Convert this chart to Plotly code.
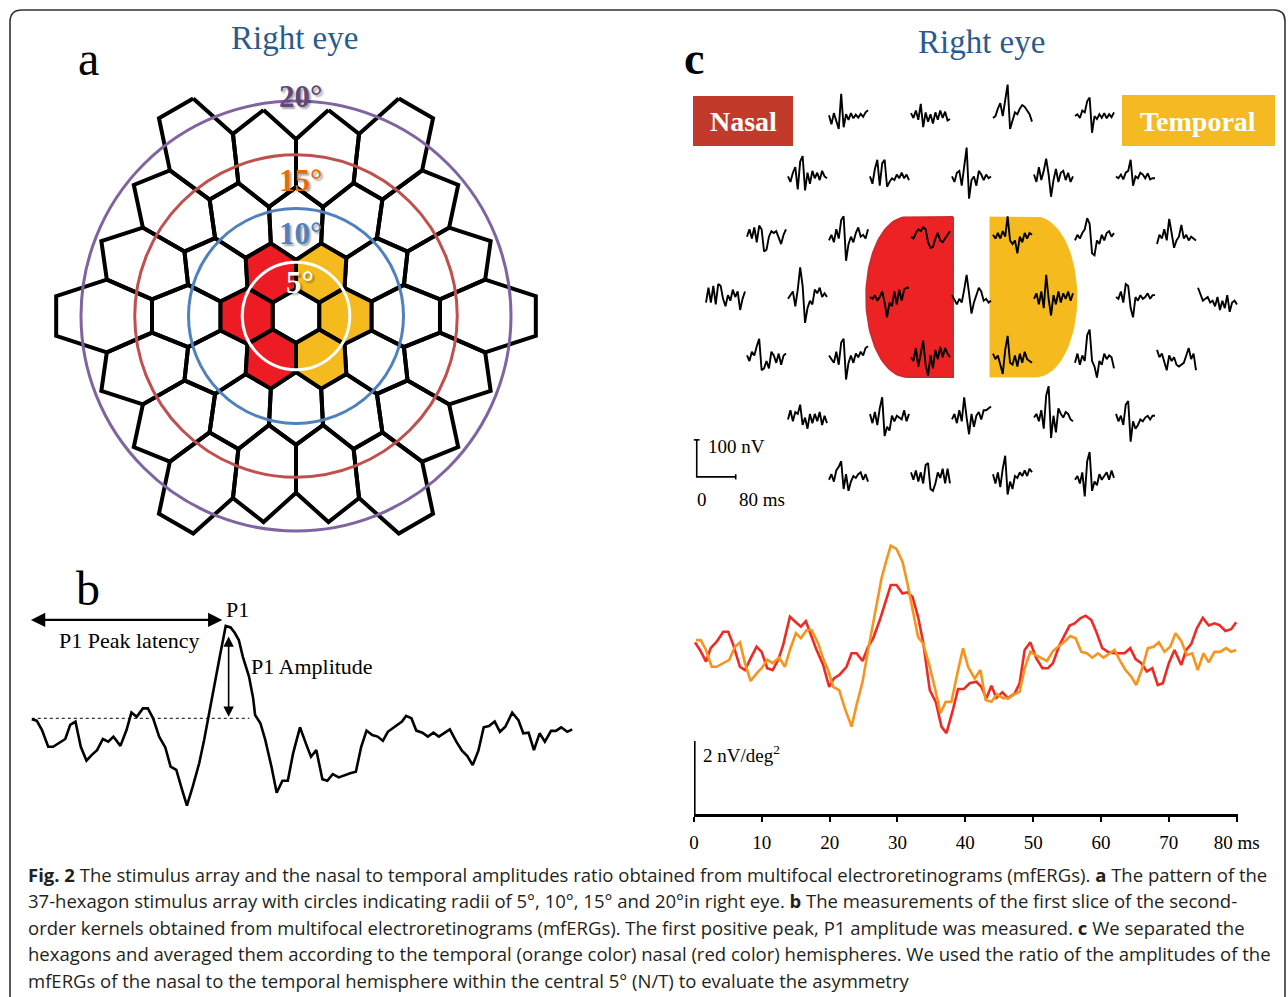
import numpy as np
import plotly.graph_objects as go

W, H = 1288, 997
SERIF = "Liberation Serif, Times New Roman, serif"
SANS = "Open Sans, Noto Sans, sans-serif"

# ---------------- Panel a : stimulus array ----------------
circle_deg = [5, 10, 15, 20]
circle_colors = ["#FFFFFF", "#4F81BD", "#C0504D", "#8064A2"]
circle_label_colors = ["#FFFFFF", "#4F81BD", "#E46C0A", "#5F497A"]
circle_label_offset = [-1.9, -2.3, -2.35, 0.4]
hex_rings = 3
hex_scale_center = 2.474    # deg per lattice unit at the centre
hex_scale_growth = 0.0326   # growth of that scale with squared eccentricity
nasal_color = "#ED1C24"
temporal_color = "#F5BA1E"

# ---------------- Panel b : single kernel ----------------
b_t = [0.0, 0.73, 1.51, 2.43, 3.16, 4.06, 4.96, 5.69, 6.47, 7.26, 8.1, 8.89, 9.67, 10.53, 11.32,
       12.1, 13.13, 14.03, 14.76, 15.54, 16.46, 17.19, 17.97, 18.87, 19.78, 20.56, 21.41, 22.19,
       22.98, 23.84, 24.8, 25.53, 26.43, 27.21, 27.94, 28.73, 29.45, 30.06, 30.67, 31.27, 32.18,
       32.79, 33.08, 33.87, 34.59, 35.5, 36.28, 37.13, 37.93, 38.71, 39.73, 40.64, 41.36, 42.15,
       43.05, 43.78, 44.58, 45.48, 46.39, 47.17, 48.01, 48.8, 49.59, 50.43, 51.23, 52.01, 52.74,
       53.47, 54.25, 54.84, 55.45, 56.24, 56.96, 57.87, 58.67, 59.51, 60.3, 61.2, 61.93, 62.89,
       63.73, 64.52, 65.32, 66.16, 66.95, 67.73, 68.58, 69.36, 70.15, 71.17, 72.09, 72.81, 73.6,
       74.39, 75.23, 76.01, 76.92, 77.64, 78.43, 79.33, 80.06]
b_amp = [-0.03, -0.08, -0.39, -0.95, -0.95, -0.81, -0.69, -0.22, -0.11, -0.95, -1.41, -1.22, -1.06,
         -0.69, -0.78, -0.61, -0.92, -0.39, 0.19, 0.05, 0.33, 0.33, 0.0, -0.61, -0.97, -1.61, -1.72,
         -2.33, -2.91, -2.28, -1.5, -0.72, 0.39, 1.28, 2.17, 3.08, 3.03, 2.85, 2.61, 2.05, 1.39, 0.67,
         0.11, -0.17, -0.72, -1.61, -2.48, -2.08, -2.08, -1.17, -0.3, -0.86, -1.28, -1.06, -2.03,
         -2.08, -1.86, -1.97, -1.89, -1.83, -1.78, -0.95, -0.41, -0.56, -0.61, -0.75, -0.45, -0.33,
         -0.19, -0.11, 0.08, 0.0, -0.41, -0.48, -0.61, -0.48, -0.61, -0.48, -0.37, -0.78, -1.08,
         -1.26, -1.56, -1.08, -0.3, -0.26, -0.11, -0.45, -0.28, 0.19, -0.06, -0.5, -0.48, -1.06,
         -0.5, -0.78, -0.42, -0.42, -0.3, -0.45, -0.37]
b_peak_t = 28.73
b_peak_amp = 3.08

# ---------------- Panel c : averaged nasal / temporal kernels ----------------
nasal_t = [0.15, 0.88, 1.77, 2.46, 3.34, 4.32, 5.05, 5.79, 6.77, 7.51, 8.35, 9.23, 9.97, 10.8, 11.59,
           12.42, 13.15, 14.14, 15.02, 15.76, 16.49, 17.19, 17.97, 19.04, 19.93, 20.62, 21.5, 22.49,
           23.23, 23.96, 24.85, 25.67, 26.41, 27.39, 28.13, 29.01, 29.85, 30.74, 31.41, 32.21, 33.03,
           33.77, 34.76, 35.64, 36.48, 37.22, 38.1, 38.93, 39.76, 40.65, 41.63, 42.37, 43.11, 43.84,
           44.58, 45.46, 46.29, 47.28, 48.01, 48.75, 49.59, 50.47, 51.36, 52.18, 52.92, 53.9, 54.64,
           55.38, 56.11, 56.95, 57.73, 58.57, 59.31, 60.19, 61.02, 61.86, 62.64, 63.48, 64.31, 65.1,
           65.93, 66.76, 67.56, 68.38, 69.12, 70.0, 70.84, 71.83, 72.56, 73.3, 74.12, 75.01, 75.89,
           76.73, 77.47, 78.35, 79.19, 79.93]
nasal_amp = [0.21, 0.0, -0.32, 0.05, 0.23, 0.5, 0.5, 0.14, -0.46, -0.55, -0.23, 0.09, -0.05, -0.5,
             -0.55, -0.27, 0.14, 0.91, 0.76, 0.64, 0.79, 0.41, 0.05, -0.41, -1.01, -0.78, -0.67, -0.46,
             -0.09, -0.09, -0.3, 0.09, 0.32, 0.82, 1.23, 1.78, 1.78, 1.55, 1.58, 1.46, 0.91, 0.23, -1.1,
             -1.42, -2.1, -2.28, -1.69, -1.07, -1.07, -0.91, -0.87, -1.01, -1.32, -0.98, -1.31, -1.16,
             -1.32, -1.19, -0.91, 0.0, 0.21, -0.23, -0.5, -0.5, -0.36, 0.14, 0.41, 0.67, 0.73, 0.87,
             0.94, 0.82, 0.5, 0.05, -0.05, -0.09, -0.09, -0.09, 0.05, -0.25, -0.36, -0.59, -0.5, -0.96,
             -0.91, -0.36, 0.0, -0.41, 0.0, 0.16, 0.59, 0.88, 0.67, 0.73, 0.68, 0.52, 0.57, 0.76]
temporal_t = [0.29, 0.99, 1.77, 2.61, 3.34, 4.32, 5.2, 6.04, 6.77, 7.51, 8.35, 9.23, 9.97, 10.8, 11.59,
              12.56, 13.4, 14.14, 15.02, 15.76, 16.6, 17.33, 18.31, 19.04, 19.78, 20.52, 21.4, 22.24,
              23.23, 23.96, 24.85, 25.67, 26.66, 27.64, 28.38, 29.01, 29.85, 30.74, 31.41, 32.21,
              33.03, 33.77, 34.76, 35.64, 36.33, 37.11, 37.95, 38.78, 39.66, 40.4, 41.38, 42.22, 43.0,
              43.84, 44.67, 45.55, 46.44, 47.13, 48.01, 48.75, 49.59, 50.37, 51.21, 52.03, 52.92, 53.8,
              54.64, 55.48, 56.26, 57.1, 57.92, 58.72, 59.54, 60.38, 61.16, 62.0, 62.74, 63.62, 64.46,
              65.2, 66.08, 66.91, 67.75, 68.53, 69.37, 70.21, 70.99, 71.83, 72.65, 73.45, 74.27, 75.11,
              75.89, 76.73, 77.57, 78.45, 79.19, 79.93]
temporal_amp = [0.27, 0.27, 0.0, -0.46, -0.46, -0.36, -0.27, 0.09, 0.21, -0.36, -0.85, -0.64, -0.5,
                -0.27, -0.36, -0.21, -0.46, 0.0, 0.46, 0.32, 0.55, 0.55, 0.18, -0.23, -0.55, -1.01,
                -1.1, -1.6, -2.1, -1.51, -0.87, 0.0, 0.96, 1.96, 2.47, 2.86, 2.77, 2.42, 1.87, 1.14,
                0.36, 0.18, -0.46, -1.14, -1.73, -1.42, -1.42, -0.68, 0.05, -0.46, -0.78, -0.55, -1.37,
                -1.42, -1.21, -1.32, -1.31, -1.23, -1.14, -0.5, -0.05, -0.14, -0.21, -0.3, -0.03, 0.09,
                0.23, 0.38, 0.32, -0.05, -0.09, -0.21, -0.09, -0.21, -0.12, 0.0, -0.27, -0.55, -0.73,
                -0.96, -0.5, 0.05, 0.09, 0.21, -0.05, 0.09, 0.46, 0.25, -0.14, -0.09, -0.55, -0.09,
                -0.34, -0.05, -0.05, 0.05, -0.05, 0.0]
c_tickvals = [0, 10, 20, 30, 40, 50, 60, 70, 80]
c_ticktext = ["0", "10", "20", "30", "40", "50", "60", "70", "80 ms"]
c_scale_nv_deg2 = 2

# ---------------- Panel c : 37 local responses (nV, 5 ms steps) ----------------
local_t = [0, 5, 10, 15, 20, 25, 30, 35, 40, 45, 50, 55, 60, 65, 70, 75, 80]
row1 = [
    [2, -22, 8, -12, -35, 60, -30, 5, -10, 8, -6, 4, -4, 6, -2, 10, 16],
    [8, -5, 15, -10, 33, -30, 10, -15, 5, -20, 10, -10, 15, -5, 12, -12, -8],
    [-5, 0, 20, 35, 0, 45, 85, -35, -10, 10, 5, 20, 30, 25, 15, 5, -15],
    [0, 5, -5, 15, 10, 40, 50, -45, 0, -8, 5, -5, 8, -6, 5, -3, 10],
]
row2 = [
    [0, -15, 10, 25, -35, 40, 55, -38, 10, -20, 15, -5, 10, -10, 15, 0, -5],
    [0, -20, 20, 45, -25, 35, 45, -28, -15, -5, -10, 5, -5, 10, -5, 5, -10],
    [0, -15, 10, 15, -25, 30, 78, -60, -10, 0, -25, 15, 5, -10, 5, -5, 0],
    [5, -15, 25, -10, 15, 48, 5, -55, -10, 20, -15, 10, 15, -10, 10, -15, 0],
    [0, -5, 5, -8, 10, 15, 45, -25, 0, -5, 10, 5, -5, 8, -8, -5, -5],
]
row3 = [
    [0, 20, -5, 25, -15, 30, 20, -40, -35, 0, 15, 10, 15, 0, -20, 5, 20],
    [-10, 5, -15, 20, -5, 45, 55, -65, -20, 0, -15, 10, 25, 0, 5, -5, 20],
    [0, -5, 10, 20, 15, 25, 20, -15, -30, -28, -5, 10, -10, -15, -5, 5, 15],
    [5, -5, 10, -5, 15, 0, 55, -10, -20, -10, -45, 0, -15, 10, -5, 10, 5],
    [-10, 5, -5, 10, 20, 50, 35, -45, -50, -10, -20, 5, -10, 10, 15, 0, 10],
    [-20, 5, -5, 20, -10, 48, 10, -30, -10, 0, 32, -5, 5, -10, 0, -5, -10],
]
row4 = [
    [-15, 25, -15, 30, -20, 35, 30, -5, -25, 5, -10, 20, 0, 15, -35, -5, 15],
    [-5, 5, 15, -25, 20, 80, 30, -70, -30, -10, -20, 20, 10, 25, 0, 10, 0],
    [0, -5, 5, -10, 0, 15, -15, -55, -15, -25, 15, -20, 20, -10, 20, 25, 25],
    [5, -10, -20, -5, -15, 20, 60, 10, -45, -15, 5, 25, 15, -10, -5, -15, -10],
    [-5, 10, -20, 15, -30, 60, -5, -50, 5, -20, 15, -15, 10, -5, 15, -10, 10],
    [0, -5, 15, -15, 35, 30, -30, -55, 0, -10, 5, -5, 0, 10, -5, 5, 5],
    [25, 5, -10, -5, 0, -15, -10, -25, 0, -35, -10, -30, 5, -40, -15, -10, -20],
]
row5 = [
    [5, -10, 15, 5, 30, 50, -35, -30, -10, -30, 15, 5, -15, 10, -20, 5, 10],
    [5, -5, -15, 15, -20, 40, 50, -60, -15, 5, -15, 10, 0, 15, 5, 25, 30],
    [0, -10, 25, -25, 10, 45, -20, -50, 5, -30, 20, -5, 28, 0, 25, 10, 0],
    [10, -5, 5, -20, -45, 20, 58, -15, -20, 5, -25, 10, -15, 15, -5, -10, -15],
    [-15, 10, -20, 5, -10, 60, 75, -10, -25, -55, -10, -20, 10, -5, 5, 0, -30],
    [20, 0, 10, -15, -35, 5, -10, 0, -20, -25, -20, -15, 5, 25, -5, 10, -35],
]
row6 = [
    [-5, 20, -10, 15, 10, 35, -20, 0, -30, 10, -15, 10, -10, 15, -20, 5, -15],
    [10, -15, 15, -20, 25, 55, -50, -25, -35, 5, -10, 5, 0, -5, 20, -10, 10],
    [-5, 10, -15, 20, -10, 55, 0, -45, 10, -25, 5, 15, -5, 20, 20, 25, 30],
    [0, 10, -10, 20, -30, 60, 85, -55, 5, -40, 25, 10, 0, 15, 10, -5, -10],
    [10, -10, 5, -20, 35, 45, -65, -10, -30, -20, -5, -10, 0, 5, -5, 5, 5],
]
row7 = [
    [-5, 10, -10, 20, 30, 45, -30, 10, -35, -10, 5, 0, 10, 15, -5, 10, -10],
    [15, -5, 20, -10, 15, -15, 35, 40, -30, -35, -15, 15, 0, 25, -15, 25, -15],
    [10, -15, 15, -25, 25, 60, -45, -10, -30, 5, 0, 15, 5, 20, 5, 25, 15],
    [-5, 5, -15, 15, -50, 45, 70, -35, -10, -20, 10, -5, 5, 15, -5, 20, 0],
]
local_rows = [row1, row2, row3, row4, row5, row6, row7]
scale_nv = 100
scale_ms = 80

caption_lines = [
    "<b>Fig. 2</b> The stimulus array and the nasal to temporal amplitudes ratio obtained from multifocal electroretinograms (mfERGs). <b>a</b> The pattern of the",
    "37-hexagon stimulus array with circles indicating radii of 5°, 10°, 15° and 20°in right eye. <b>b</b> The measurements of the first slice of the second-",
    "order kernels obtained from multifocal electroretinograms (mfERGs). The first positive peak, P1 amplitude was measured. <b>c</b> We separated the",
    "hexagons and averaged them according to the temporal (orange color) nasal (red color) hemispheres. We used the ratio of the amplitudes of the",
    "mfERGs of the nasal to the temporal hemisphere within the central 5° (N/T) to evaluate the asymmetry",
]


# ---------------- helpers (pixel -> paper) ----------------
def fx(px):
    return px / W


def fy(py):
    return 1 - py / H


def dom_x(a, b):
    return [fx(a), fx(b)]


def dom_y(top, bottom):
    return [fy(bottom), fy(top)]


fig = go.Figure()
annotations = []
shapes = []


def pann(text, px, py, size, color="black", family=SERIF, xanchor="center", yanchor="middle", **kw):
    annotations.append(dict(text=text, x=fx(px), y=fy(py), xref="paper", yref="paper",
                            xanchor=xanchor, yanchor=yanchor, showarrow=False,
                            font=dict(size=size, color=color, family=family), **kw))


# ===== Panel a =====
A_PX_PER_DEG = 10.75
A_CX, A_CY = 296, 316
a_x0, a_x1, a_y0, a_y1 = 40, 552, 78, 548
ax_range = [(a_x0 - A_CX) / A_PX_PER_DEG, (a_x1 - A_CX) / A_PX_PER_DEG]
ay_range = [(A_CY - a_y1) / A_PX_PER_DEG, (A_CY - a_y0) / A_PX_PER_DEG]


def warp(x, y):
    f = hex_scale_center + hex_scale_growth * (x ** 2 + y ** 2)
    return x * f, y * f


angles = np.deg2rad([90, 30, -30, -90, -150, 150, 90])
groups = {"#FFFFFF": ([], []), nasal_color: ([], []), temporal_color: ([], [])}
for r in range(-hex_rings, hex_rings + 1):
    for q in range(max(-hex_rings, -hex_rings - r), min(hex_rings, hex_rings - r) + 1):
        cx = np.sqrt(3) * (q + r / 2)
        cy = -1.5 * r
        wx, wy = warp(cx + np.cos(angles), cy + np.sin(angles))
        ring = max(abs(q), abs(r), abs(q + r))
        key = "#FFFFFF" if ring != 1 else (nasal_color if cx < 0 else temporal_color)
        groups[key][0].extend(list(wx) + [None])
        groups[key][1].extend(list(wy) + [None])

for col, (gx, gy) in groups.items():
    fig.add_trace(go.Scatter(x=gx, y=gy, mode="lines", fill="toself", fillcolor=col,
                             line=dict(color="black", width=4), xaxis="x", yaxis="y",
                             hoverinfo="skip"))

for deg, col, lcol, off in zip(circle_deg, circle_colors, circle_label_colors, circle_label_offset):
    shapes.append(dict(type="circle", xref="x", yref="y", x0=-deg, x1=deg, y0=-deg, y1=deg,
                       line=dict(color=col, width=3)))
    annotations.append(dict(text=f"{deg}°", x=0.4, y=deg + off, xref="x", yref="y",
                            showarrow=False, xanchor="center", yanchor="middle",
                            font=dict(size=31, color=lcol, family=SERIF, weight="bold",
                                      shadow="2px 2px 2px rgba(0,0,0,0.35)")))

# ===== Panel b =====
B_PX_PER_MS, B_PX_PER_UNIT = 6.75, 30
B_X0PX, B_Y0PX = 31.8, 718.3
b_x0, b_x1, b_y0, b_y1 = 20, 600, 575, 835
bx_range = [(b_x0 - B_X0PX) / B_PX_PER_MS, (b_x1 - B_X0PX) / B_PX_PER_MS]
by_range = [(B_Y0PX - b_y1) / B_PX_PER_UNIT, (B_Y0PX - b_y0) / B_PX_PER_UNIT]

fig.add_trace(go.Scatter(x=[b_t[0], b_peak_t + 3.5], y=[0, 0], mode="lines",
                         line=dict(color="black", width=1, dash="dot"), xaxis="x2", yaxis="y2"))
fig.add_trace(go.Scatter(x=b_t, y=b_amp, mode="lines", line=dict(color="black", width=2.6),
                         xaxis="x2", yaxis="y2"))
# latency arrow
annotations.append(dict(x=b_peak_t - 0.5, y=b_peak_amp + 0.2, ax=b_t[0] - 0.35, ay=b_peak_amp + 0.2,
                        xref="x2", yref="y2", axref="x2", ayref="y2", text="", showarrow=True,
                        arrowside="end+start", arrowhead=2, arrowsize=1.3, arrowwidth=2.2,
                        arrowcolor="black"))
# amplitude arrow
annotations.append(dict(x=b_peak_t + 0.43, y=0.05, ax=b_peak_t + 0.43, ay=b_peak_amp - 0.3,
                        xref="x2", yref="y2", axref="x2", ayref="y2", text="", showarrow=True,
                        arrowside="end+start", arrowhead=2, arrowsize=1.3, arrowwidth=1.6,
                        arrowcolor="black"))

# ===== Panel c (grid of local responses) =====
C_PX_PER_MS, C_PX_PER_NV = 39 / 80, 37 / 100
C_CX, C_CY = 971.5, 297
COL_STEP, ROW_STEP = 82 / C_PX_PER_MS, 60.3 / C_PX_PER_NV
c_x0, c_x1, c_y0, c_y1 = 686, 1250, 84, 512
cx_range = [(c_x0 - C_CX) / C_PX_PER_MS, (c_x1 - C_CX) / C_PX_PER_MS]
cy_range = [(C_CY - c_y1) / C_PX_PER_NV, (C_CY - c_y0) / C_PX_PER_NV]

# hemisphere backgrounds (D shapes)
d_inner, d_flat, d_rx, d_ry = 38, 132, 84, 216
th = np.linspace(np.pi / 2, 3 * np.pi / 2, 60)
red_x = [-d_inner, -d_flat] + list(-d_flat + d_rx * np.cos(th)) + [-d_flat, -d_inner, -d_inner]
red_y = [d_ry, d_ry] + list(d_ry * np.sin(th)) + [-d_ry, -d_ry, d_ry]
fig.add_trace(go.Scatter(x=red_x, y=red_y, mode="lines", fill="toself", fillcolor="#ED2224",
                         line=dict(color="#CF2A2E", width=2), xaxis="x3", yaxis="y3"))
fig.add_trace(go.Scatter(x=[-v for v in red_x], y=red_y, mode="lines", fill="toself",
                         fillcolor="#F5BA1E", line=dict(color="#F5BA1E", width=1),
                         xaxis="x3", yaxis="y3"))

gx, gy = [], []
for i, row in enumerate(local_rows):
    r = i - 3
    qs = range(max(-3, -3 - r), min(3, 3 - r) + 1)
    for q, vals in zip(qs, row):
        xc = (q + r / 2) * COL_STEP
        yc = -r * ROW_STEP
        gx.extend([xc - scale_ms / 2 + t for t in local_t] + [None])
        gy.extend([yc + v for v in vals] + [None])
fig.add_trace(go.Scatter(x=gx, y=gy, mode="lines", line=dict(color="black", width=1.9),
                         xaxis="x3", yaxis="y3"))

# scale bar
sb_x = cx_range[0] + 22
sb_y = cy_range[0] + 95
fig.add_trace(go.Scatter(x=[sb_x, sb_x, sb_x + scale_ms], y=[sb_y + scale_nv, sb_y, sb_y],
                         mode="lines", line=dict(color="black", width=1.6),
                         xaxis="x3", yaxis="y3"))
fig.add_trace(go.Scatter(x=[sb_x - 6, sb_x + 6, None, sb_x + scale_ms, sb_x + scale_ms],
                         y=[sb_y + scale_nv, sb_y + scale_nv, None, sb_y - 7, sb_y + 7],
                         mode="lines", line=dict(color="black", width=1.6),
                         xaxis="x3", yaxis="y3"))
annotations.append(dict(text=f"{scale_nv} nV", x=sb_x, y=sb_y + scale_nv, xref="x3", yref="y3",
                        xanchor="left", yanchor="middle", xshift=9, yshift=-7, showarrow=False,
                        font=dict(size=19, family=SERIF, color="black")))
annotations.append(dict(text="0", x=sb_x, y=sb_y, xref="x3", yref="y3",
                        xanchor="center", yanchor="top", xshift=5, yshift=-10, showarrow=False,
                        font=dict(size=19, family=SERIF, color="black")))
annotations.append(dict(text=f"{scale_ms} ms", x=sb_x + scale_ms, y=sb_y, xref="x3", yref="y3",
                        xanchor="left", yanchor="top", xshift=1, yshift=-10, showarrow=False,
                        font=dict(size=19, family=SERIF, color="black")))

# ===== Panel c (averaged kernels) =====
D_PX_PER_UNIT, D_Y0PX = 36.5, 650
d_x0, d_x1, d_y0, d_y1 = 694, 1238, 530, 814
dy_range = [(D_Y0PX - d_y1) / D_PX_PER_UNIT, (D_Y0PX - d_y0) / D_PX_PER_UNIT]
fig.add_trace(go.Scatter(x=nasal_t, y=nasal_amp, mode="lines", line=dict(color="#EE2A24", width=2.6),
                         xaxis="x4", yaxis="y4"))
fig.add_trace(go.Scatter(x=temporal_t, y=temporal_amp, mode="lines",
                         line=dict(color="#F7941D", width=2.6), xaxis="x4", yaxis="y4"))
fig.add_trace(go.Scatter(x=[0, 0], y=[dy_range[0], dy_range[0] + c_scale_nv_deg2], mode="lines",
                         line=dict(color="black", width=3.2), xaxis="x4", yaxis="y4"))
annotations.append(dict(text=f"{c_scale_nv_deg2} nV/deg<sup>2</sup>", x=0,
                        y=dy_range[0] + c_scale_nv_deg2, xref="x4", yref="y4",
                        xanchor="left", yanchor="top", xshift=7, yshift=1, showarrow=False,
                        font=dict(size=19, family=SERIF, color="black")))

# ===== Text labels =====
pann("Right eye", 294, 38, 33, "#2A5B8F")
pann("Right eye", 981, 42, 33, "#2A5B8F")
pann("a", 88, 58, 48)
pann("b", 88, 588, 48)
pann("<b>c</b>", 694, 58, 46)
pann("P1", 224, 609, 22, xanchor="left")
pann("P1 Peak latency", 129, 640, 22)
pann("P1 Amplitude", 249, 666, 22, xanchor="left")

shapes.append(dict(type="rect", xref="paper", yref="paper", x0=fx(693), x1=fx(793), y0=fy(146),
                   y1=fy(96), fillcolor="#C23B2A", line=dict(width=0), layer="below"))
shapes.append(dict(type="rect", xref="paper", yref="paper", x0=fx(1122), x1=fx(1275), y0=fy(146),
                   y1=fy(95), fillcolor="#F5B921", line=dict(width=0), layer="below"))
pann("<b>Nasal</b>", 743, 122, 28, "white")
pann("<b>Temporal</b>", 1198, 122, 28, "white")

for k, line in enumerate(caption_lines):
    pann(line, 26, 874 + 26.6 * k, 18.5, "#231F20", family=SANS, xanchor="left")

# outer frame
frame = (f"M {fx(10)},{fy(997)} L {fx(10)},{fy(22)} Q {fx(10)},{fy(10)} {fx(22)},{fy(10)} "
         f"L {fx(1274)},{fy(10)} Q {fx(1285)},{fy(10)} {fx(1285)},{fy(21)} L {fx(1285)},{fy(997)}")
shapes.append(dict(type="path", xref="paper", yref="paper", path=frame,
                   line=dict(color="#333333", width=1.6)))

hidden = dict(visible=False, showgrid=False, zeroline=False, fixedrange=True, automargin=False)
fig.update_layout(
    width=W, height=H, autosize=False, margin=dict(l=0, r=0, t=0, b=0, pad=0, autoexpand=False),
    paper_bgcolor="white", plot_bgcolor="rgba(0,0,0,0)", showlegend=False,
    xaxis=dict(domain=dom_x(a_x0, a_x1), range=ax_range, anchor="y", **hidden),
    yaxis=dict(domain=dom_y(a_y0, a_y1), range=ay_range, anchor="x", **hidden),
    xaxis2=dict(domain=dom_x(b_x0, b_x1), range=bx_range, anchor="y2", **hidden),
    yaxis2=dict(domain=dom_y(b_y0, b_y1), range=by_range, anchor="x2", **hidden),
    xaxis3=dict(domain=dom_x(c_x0, c_x1), range=cx_range, anchor="y3", **hidden),
    yaxis3=dict(domain=dom_y(c_y0, c_y1), range=cy_range, anchor="x3", **hidden),
    xaxis4=dict(domain=dom_x(d_x0, d_x1), range=[0, 80.2], anchor="y4", showgrid=False,
                zeroline=False, showline=True, linecolor="black", linewidth=3, ticks="outside",
                ticklen=5, tickwidth=2, tickcolor="black", tickvals=c_tickvals,
                ticktext=c_ticktext, ticklabelstandoff=4, automargin=False,
                tickfont=dict(family=SERIF, size=19, color="black")),
    yaxis4=dict(domain=dom_y(d_y0, d_y1), range=dy_range, anchor="x4", **hidden),
    annotations=annotations, shapes=shapes,
)

post = (
    "document.documentElement.style.margin='0';"
    "document.body.style.margin='0';document.body.style.padding='0';"
    "document.body.style.overflow='hidden';"
    "document.documentElement.style.overflow='hidden';"
)
fig.write_html("out.html", config={"displayModeBar": False, "responsive": False},
               default_width="1288px", default_height="997px", post_script=post)
